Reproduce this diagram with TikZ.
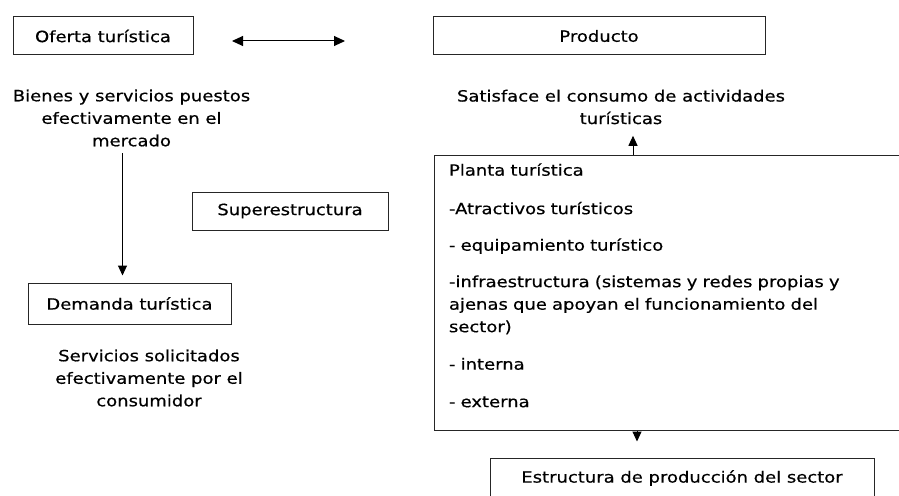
\documentclass[tikz,border=0pt]{standalone}
\usepackage{fontspec}
\setmainfont{DejaVu Sans}[FakeStretch=1.16, FakeBold=0.5]
\usetikzlibrary{shapes, arrows.meta}

\begin{document}
\begin{tikzpicture}[x=1pt, y=-1pt]
\tikzset{
    mynode/.style={rectangle, draw=black!85, line width=1pt, inner sep=.4em, text centered, font=\fontsize{15.5}{22.5}\selectfont},
    mytext/.style={align=center, font=\fontsize{15.5}{22.5}\selectfont},
    myarrow/.style={-{Triangle[length=10pt, width=9pt]}, line width=1pt},
    mydarrow/.style={{Triangle[length=11pt, width=10pt]}-{Triangle[length=11pt, width=10pt]}, line width=1pt}
}
\useasboundingbox (0,0) rectangle (899,495);
\clip (0,0) rectangle (899,495);
\node[mynode, minimum width=180pt, minimum height=38pt](oferta) at (103,36) {Oferta turística};
\node[mynode, minimum width=332pt, minimum height=38pt](producto) at (599,36) {Producto};
\node[mytext](bienes) at (131.5,118) {Bienes y servicios puestos\\efectivamente en el\\mercado};
\node[mytext](satisface) at (621,107) {Satisface el consumo de actividades\\turísticas};
\node[mynode, minimum width=196pt, minimum height=38pt](superest) at (290,211) {Superestructura};
\node[mynode, minimum width=203pt, minimum height=41pt](demanda) at (129.5,303.5) {Demanda turística};
\node[mytext](servicios) at (149,378) {Servicios solicitados\\efectivamente por el\\consumidor};
\node[mynode, anchor=north west, text width=480pt, align=left, inner xsep=15pt, minimum height=275pt](planta) at (433.5,155) {Planta turística\\[16pt]-Atractivos turísticos\\[14pt]- equipamiento turístico\\[14pt]-infraestructura (sistemas y redes propias y\\ajenas que apoyan el funcionamiento del\\sector)\\[15pt]- interna\\[15pt]- externa\\[-7pt]\mbox{}};
\node[mynode, minimum width=384pt, minimum height=40pt](estructura) at (682,478) {Estructura de producción del sector};
\coordinate (dblL) at (232,41);
\coordinate (dblR) at (345,41);
\coordinate (downx) at ([xshift=-9pt]bienes.south);
\coordinate (upx) at ([xshift=12pt]satisface.south);
\coordinate (outx) at ([xshift=16pt]satisface.south);
\draw[mydarrow] (dblL) -- (dblR);
\draw[myarrow, shorten <=3pt, shorten >=7pt] (downx) -- (downx |- demanda.north);
\draw[myarrow, shorten >=8pt] (planta.north -| upx) -- (upx);
\draw[myarrow, shorten >=16pt] (planta.south -| outx) -- (estructura.north -| outx);
\end{tikzpicture}
\end{document}
